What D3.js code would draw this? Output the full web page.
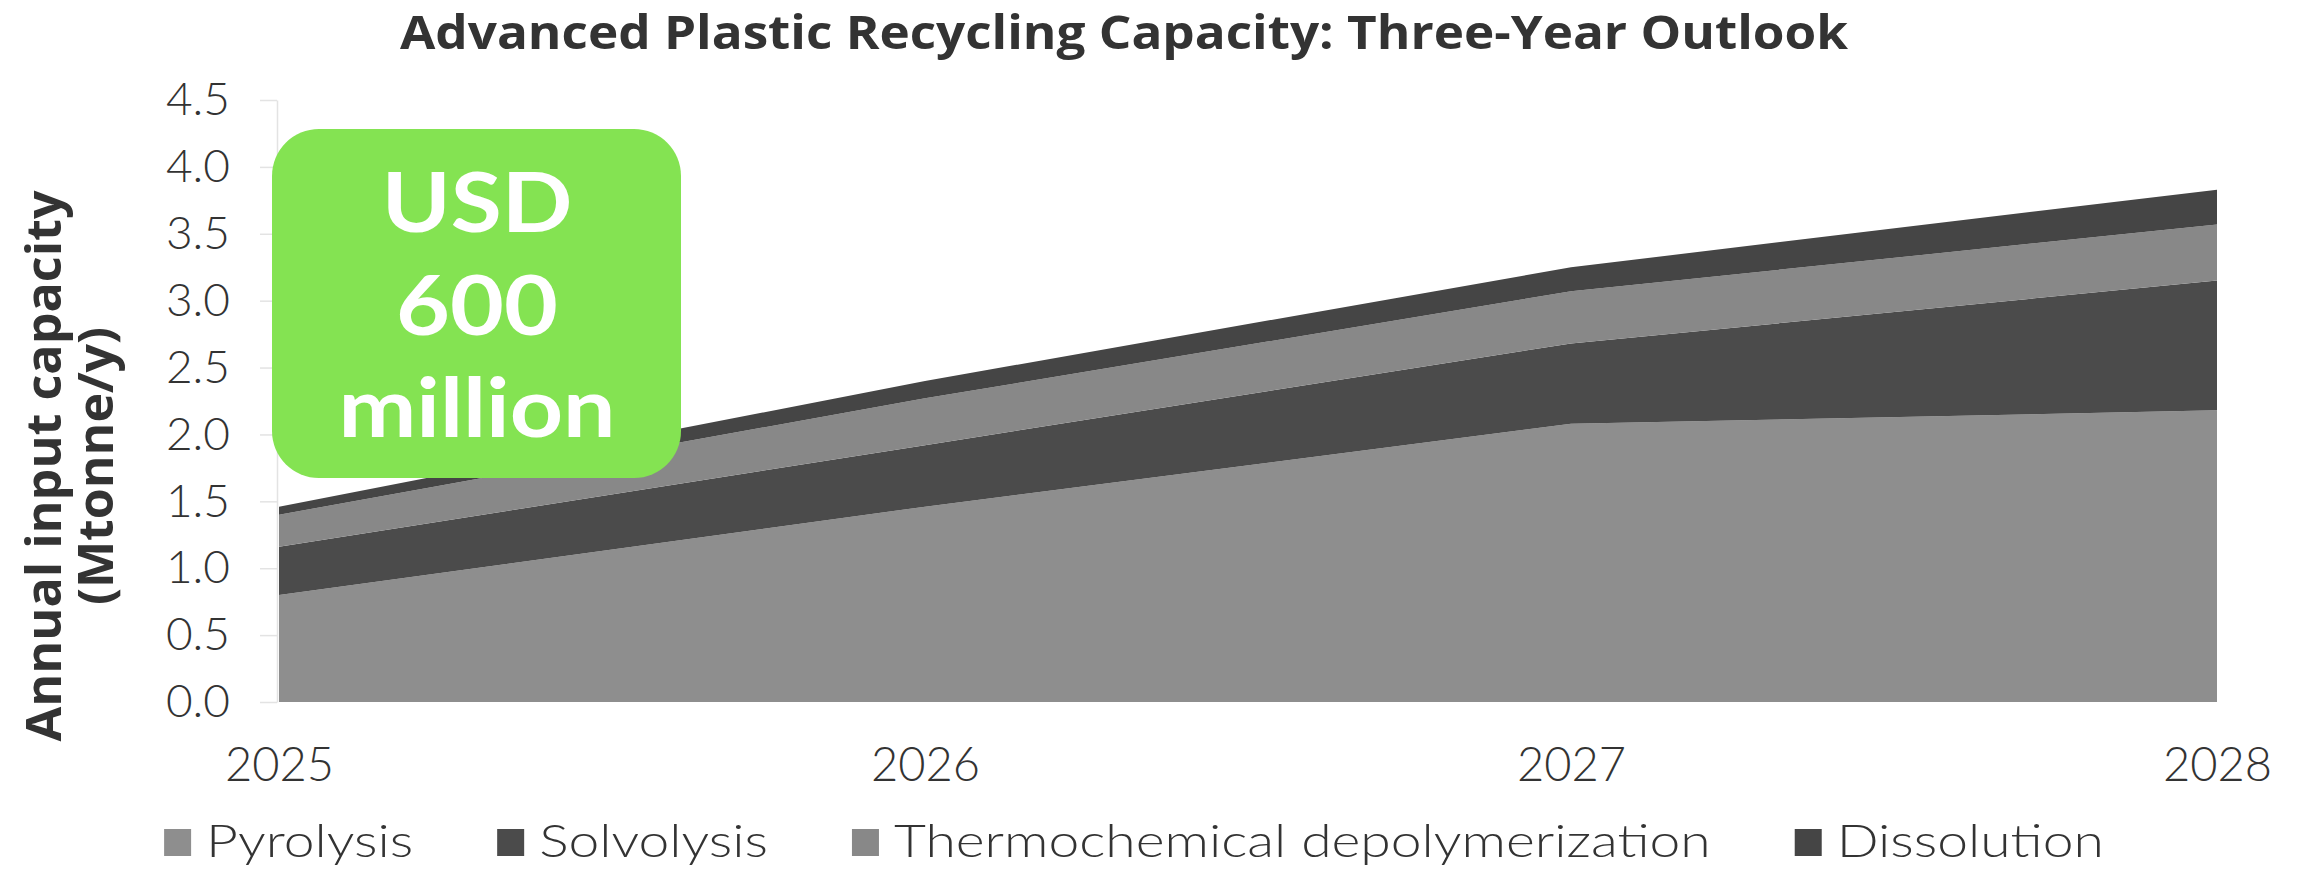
<!DOCTYPE html>
<html>
<head>
<meta charset="utf-8">
<script src="https://cdn.jsdelivr.net/npm/d3@7"></script>
<style>
    body { margin: 0; background: #ffffff; }
    svg { display: block; }
</style>
</head>
<body>
<div id="chart"></div>
<script>
// data
var years = ["2025", "2026", "2027", "2028"];
var seriesKeys = ["Pyrolysis", "Solvolysis", "Thermochemical depolymerization", "Dissolution"];
var pyrolysis = [0.80, 1.46, 2.08, 2.18];
var solvolysis = [0.36, 0.46, 0.60, 0.97];
var thermochemical = [0.24, 0.35, 0.39, 0.42];
var dissolution = [0.06, 0.13, 0.18, 0.26];
var yTicks = [0, 0.5, 1, 1.5, 2, 2.5, 3, 3.5, 4, 4.5];
var calloutLines = ["USD", "600", "million"];

var colors = {
    "Pyrolysis": "#8e8e8e",
    "Solvolysis": "#4b4b4b",
    "Thermochemical depolymerization": "#888888",
    "Dissolution": "#454545"
};

// svg container
var svgWidth = 2303;
var svgHeight = 869;

var svg = d3.select("#chart").append("svg")
    .attr("width", svgWidth)
    .attr("height", svgHeight);

// table for the stack
var table = years.map(function (y, i) {
    return {
        year: y,
        "Pyrolysis": pyrolysis[i],
        "Solvolysis": solvolysis[i],
        "Thermochemical depolymerization": thermochemical[i],
        "Dissolution": dissolution[i]
    };
});

// stretch text horizontally (fallback fonts are narrower than the original)
function stretch(sel, target) {
    sel.each(function () {
        var w = target || this.getComputedTextLength() * 1.2;
        d3.select(this).attr("textLength", w).attr("lengthAdjust", "spacingAndGlyphs");
    });
}

// scales
var xScale = d3.scalePoint()
    .domain(years)
    .range([279, 2217]);

var yScale = d3.scaleLinear()
    .domain([0, 4.5])
    .range([702, 100]);

// stacked areas
var stack = d3.stack().keys(seriesKeys);
var layers = stack(table);

var area = d3.area()
    .x(d => xScale(d.data.year))
    .y0(d => yScale(d[0]))
    .y1(d => yScale(d[1]));

svg.append("g")
    .selectAll("path")
    .data(layers)
    .enter()
    .append("path")
    .attr("d", area)
    .attr("fill", d => colors[d.key]);

// y axis
var yAxis = svg.append("g")
    .attr("transform", "translate(277, 0)")
    .call(d3.axisLeft(yScale)
        .tickValues(yTicks)
        .tickFormat(d3.format(".1f"))
        .tickSize(17)
        .tickSizeOuter(0)
        .tickPadding(30));

yAxis.select(".domain").attr("stroke", "#e3e3e3").attr("stroke-width", 1.5);
yAxis.selectAll(".tick line").attr("stroke", "#e3e3e3").attr("stroke-width", 1.5);
yAxis.selectAll(".tick text")
    .attr("fill", "#333333")
    .style("font-family", "Lato, 'Open Sans', sans-serif")
    .style("font-weight", 300)
    .style("font-size", "46px");

// x axis labels
var xAxis = svg.append("g")
    .attr("transform", "translate(0, 702)")
    .call(d3.axisBottom(xScale).tickSize(0).tickPadding(46));

xAxis.select(".domain").remove();
xAxis.selectAll(".tick text")
    .attr("fill", "#333333")
    .style("font-family", "Lato, 'Open Sans', sans-serif")
    .style("font-weight", 300)
    .style("font-size", "47px");

// title
svg.append("text")
    .attr("x", 1124)
    .attr("y", 49)
    .attr("text-anchor", "middle")
    .attr("fill", "#333333")
    .style("font-family", "'Open Sans', sans-serif")
    .style("font-weight", 700)
    .style("font-size", "46px")
    .text("Advanced Plastic Recycling Capacity: Three-Year Outlook")
    .call(stretch, 1448);

// y axis title
var yTitle = svg.append("text")
    .attr("transform", "translate(61, 466) rotate(-90)")
    .attr("text-anchor", "middle")
    .attr("fill", "#333333")
    .style("font-family", "'Open Sans', sans-serif")
    .style("font-weight", 700)
    .style("font-size", "48px");

yTitle.append("tspan")
    .attr("x", 0)
    .attr("y", 0)
    .text("Annual input capacity")
    .call(stretch, 551);

yTitle.append("tspan")
    .attr("x", 0)
    .attr("y", 52)
    .text("(Mtonne/y)")
    .call(stretch, 278);

// green callout
svg.append("rect")
    .attr("x", 272)
    .attr("y", 129)
    .attr("width", 409)
    .attr("height", 349)
    .attr("rx", 47)
    .attr("fill", "#84e352");

svg.append("g")
    .selectAll("text")
    .data(calloutLines)
    .enter()
    .append("text")
    .attr("x", 477)
    .attr("y", (d, i) => 232 + i * 102.5)
    .attr("text-anchor", "middle")
    .attr("fill", "#ffffff")
    .style("font-family", "Lato, 'Open Sans', sans-serif")
    .style("font-weight", 700)
    .style("font-size", "83px")
    .text(d => d)
    .each(function () {
        d3.select(this).call(stretch, this.getComputedTextLength() * 1.12);
    });

// legend
var legend = svg.append("g");

var legendItems = legend.selectAll("g")
    .data(seriesKeys)
    .enter()
    .append("g");

legendItems.append("rect")
    .attr("x", 0)
    .attr("y", 829)
    .attr("width", 27)
    .attr("height", 27)
    .attr("fill", d => colors[d]);

legendItems.append("text")
    .attr("x", 42)
    .attr("y", 857)
    .attr("fill", "#333333")
    .style("font-family", "Lato, 'Open Sans', sans-serif")
    .style("font-weight", 300)
    .style("font-size", "46px")
    .text(d => d);

var cursor = 0;
legendItems.each(function () {
    var t = d3.select(this).select("text");
    var w = t.node().getComputedTextLength() * 1.2;
    t.call(stretch, w);
    d3.select(this).attr("transform", `translate(${cursor}, 0)`);
    cursor += 42 + w + 84;
});
legend.attr("transform", `translate(${1134 - (cursor - 84) / 2}, 0)`);
</script>
</body>
</html>
